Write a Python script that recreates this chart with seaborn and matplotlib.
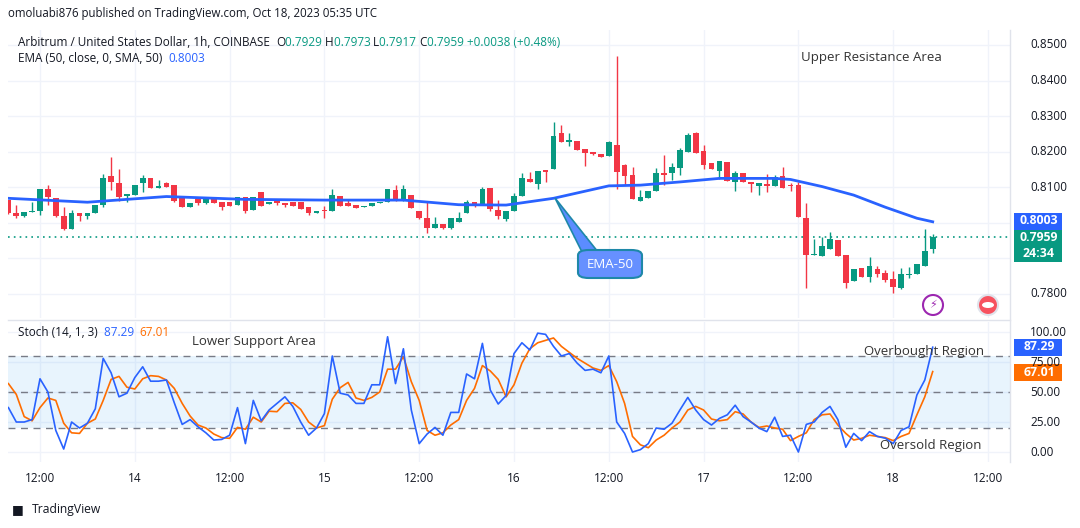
import matplotlib
matplotlib.use("Agg")
import matplotlib.pyplot as plt
import seaborn as sns
import pandas as pd
import numpy as np
from matplotlib.patches import Polygon, FancyBboxPatch, Ellipse

FONT = "Open Sans"
plt.rcParams["font.family"] = FONT

opens = [0.8064,0.8028,0.8020,0.8030,0.8032,0.8095,0.8071,0.8019,0.7983,0.8029,
         0.8018,0.8029,0.8050,0.8132,0.8113,0.8075,0.8078,0.8112,0.8126,0.8099,
         0.8112,0.8106,0.8072,0.8045,0.8067,0.8057,0.8069,0.8059,0.8059,0.8050,
         0.8072,0.8036,0.8087,0.8052,0.8062,0.8057,0.8060,0.8060,0.8045,0.8029,
         0.8036,0.8034,0.8075,0.8057,0.8050,0.8044,0.8048,0.8055,0.8060,0.8092,
         0.8061,0.8078,0.8034,0.8015,0.7986,0.7997,0.7986,0.8003,0.8029,0.8058,
         0.8050,0.8098,0.8036,0.8010,0.8034,0.8075,0.8123,0.8108,0.8149,0.8151,
         0.8252,0.8226,0.8230,0.8208,0.8198,0.8194,0.8188,0.8219,0.8163,0.8135,
         0.8062,0.8071,0.8090,0.8141,0.8139,0.8153,0.8200,0.8252,0.8202,0.8167,
         0.8147,0.8172,0.8116,0.8139,0.8116,0.8105,0.8109,0.8104,0.8132,0.8107,
         0.8107,0.8015,0.7910,0.7907,0.7926,0.7952,0.7910,0.7837,0.7872,0.7847,
         0.7869,0.7858,0.7841,0.7818,0.7854,0.7856,0.7880,0.7926]
closes = [0.8029,0.8020,0.8030,0.8032,0.8095,0.8072,0.8020,0.7983,0.8029,0.8018,
          0.8029,0.8050,0.8126,0.8115,0.8072,0.8080,0.8106,0.8126,0.8099,0.8104,
          0.8102,0.8062,0.8045,0.8057,0.8057,0.8069,0.8057,0.8045,0.8048,0.8072,
          0.8033,0.8072,0.8048,0.8060,0.8057,0.8050,0.8048,0.8038,0.8029,0.8033,
          0.8032,0.8078,0.8047,0.8047,0.8043,0.8046,0.8057,0.8060,0.8095,0.8061,
          0.8095,0.8043,0.8015,0.7986,0.7997,0.7986,0.8015,0.8015,0.8058,0.8050,
          0.8095,0.8039,0.8020,0.8034,0.8075,0.8125,0.8116,0.8147,0.8144,0.8244,
          0.8226,0.8233,0.8205,0.8196,0.8194,0.8186,0.8226,0.8144,0.8133,0.8067,
          0.8072,0.8090,0.8139,0.8134,0.8158,0.8205,0.8247,0.8197,0.8164,0.8150,
          0.8174,0.8118,0.8139,0.8116,0.8108,0.8113,0.8104,0.8128,0.8099,0.8105,
          0.8017,0.7910,0.7912,0.7935,0.7956,0.7908,0.7832,0.7870,0.7849,0.7879,
          0.7856,0.7839,0.7820,0.7856,0.7857,0.7884,0.7921,0.7959]
wick_high = {1:0.8050,3:0.8058,5:0.8106,7:0.8044,8:0.8036,12:0.8137,13:0.8186,14:0.8151,
             17:0.8135,19:0.8120,20:0.8115,25:0.8074,40:0.8047,41:0.8095,43:0.8065,49:0.8106,
             50:0.8106,53:0.8060,54:0.8016,57:0.8031,58:0.8063,60:0.8100,62:0.8064,64:0.8083,
             65:0.8141,66:0.8144,69:0.8283,70:0.8275,71:0.8254,76:0.8230,77:0.8470,78:0.8166,
             79:0.8156,80:0.8092,82:0.8153,83:0.8190,84:0.8169,85:0.8210,86:0.8254,87:0.8255,
             88:0.8219,92:0.8145,96:0.8138,97:0.8135,98:0.8156,99:0.8113,100:0.8115,101:0.8055,
             102:0.7956,103:0.7961,104:0.7975,109:0.7905,110:0.7879,111:0.7867,112:0.7865,
             113:0.7874,114:0.7877,116:0.7983,117:0.7970}
wick_low = {0:0.8025,1:0.8015,2:0.8016,4:0.8022,5:0.8050,6:0.8016,7:0.7980,9:0.8005,10:0.8010,
            12:0.8045,13:0.8091,14:0.8062,15:0.8060,17:0.8088,21:0.8058,23:0.8045,24:0.8050,
            25:0.8052,27:0.8035,30:0.8028,34:0.8050,35:0.8045,38:0.8022,40:0.8013,52:0.8012,
            53:0.7971,55:0.7983,56:0.7983,59:0.8045,61:0.8032,62:0.8010,63:0.8005,67:0.8095,
            68:0.8115,71:0.8217,73:0.8161,74:0.8190,77:0.8095,78:0.8106,81:0.8079,83:0.8106,
            84:0.8120,85:0.8134,88:0.8150,90:0.8122,92:0.8090,94:0.8088,95:0.8078,96:0.8088,
            99:0.8090,101:0.7816,106:0.7816,109:0.7835,110:0.7849,111:0.7834,112:0.7802,
            113:0.7815,114:0.7845,116:0.7878,117:0.7916}

ema_idx = [0,10,20,30,40,50,57,63,69,76,80,85,90,97,99,103,107,111,115,117]
ema_val = [0.8069,0.8058,0.8074,0.8066,0.8064,0.8064,0.8051,0.8050,0.8069,0.8104,0.8106,
           0.8115,0.8125,0.8125,0.8122,0.8102,0.8078,0.8044,0.8013,0.8003]

stoch_k = [37,25,25,27,61,50,18,2.5,25,20,24,36,78,66,46,49,62,71,59,59,
           60,41,23,27,21,16,10,10.5,14,37,7,43,26,35,40.5,46,38,25,14,20,
           32,80,49,47.5,40.5,40.5,56,56,96,57,86,35,7,15,20.5,14,33,33,65,61,
           90.5,51.6,40,47,82,91,85,99,
           98,88,80,82,74,68,69,66,80,25,15.5,0,2,7,20,19,24,35,45.5,35,
           27,22.5,28,31,39,29.5,25,20,17,29,13,14,0,23,25,33,38,27,4,15.5,
           9.5,17,13,11.5,7,18,21,47.5,60,87.29]
stoch_d = [57,48,29.5,26,37,45,43,24,16,15.5,24,27.5,43,60.5,63,54,52.5,61,63.6,63,
           60,53,40.5,30,22.5,20,15,12,11.4,20.5,19,29,25,34,33.6,40.5,41,35.5,25,20,
           22,44,53.6,58,45,43,45.5,50,69,69,79.4,58.6,43,18,14,16,22.5,27,43,53,
           72,67.5,60.5,46,56,74,86,91,
           93,95,88,83,78,74,70,68,72,58.6,40.5,13,6,3.6,10,14,20,25,35,38,
           35,27.5,26,27,33.6,31.7,25,20.5,21.7,20,19,9.5,13,16,27,31,31.7,22.5,15.5,10,
           11.4,14,13,12,9.5,13,15.5,31,46,67.01]

tick_pos = [4,16,28,40,52,64,76,88,100,112,124]
tick_lab = ["12:00","14","12:00","15","12:00","16","12:00","17","12:00","18","12:00"]
price_ticks = [0.78,0.79,0.80,0.81,0.82,0.83,0.84,0.85]
price_tick_labels_shown = [0.78,0.81,0.82,0.83,0.84,0.85]
stoch_ticks = [0,25,50,75,100]

W, H = 1080, 528
fig = plt.figure(figsize=(W/100, H/100), dpi=100)
def px(x0, y0, x1, y1):
    return [x0/W, 1-y1/H, (x1-x0)/W, (y1-y0)/H]
ax = fig.add_axes(px(8, 30, 1010, 318))
ax2 = fig.add_axes(px(8, 322, 1010, 462))

UP, DN = "#089981", "#f23645"
n = len(opens)
idx = np.arange(n)
XL = (4 + (8-40)/7.9, 4 + (1010-40)/7.9)
for i in range(n):
    o, c = opens[i], closes[i]
    col = UP if c >= o else DN
    hi = max(o, c, wick_high.get(i, 0))
    lo = min(o, c, wick_low.get(i, 1))
    ax.vlines(i, lo, hi, color=col, lw=1, zorder=3)
    ax.bar(i, max(abs(c-o), 0.00008), bottom=min(o, c), width=0.72, color=col, zorder=4, linewidth=0)

sns.lineplot(x=ema_idx, y=ema_val, ax=ax, color="#2962ff", lw=2, zorder=5)
ax.axhline(closes[-1], color=UP, ls=(0, (1, 2.5)), lw=1.2, zorder=2)
ax.set_xlim(*XL)
ax.set_ylim(0.85 - 273/3557, 0.85 + 15/3557)

df = pd.DataFrame({"i": idx, "K": stoch_k, "D": stoch_d})
ax2.axhspan(20, 80, color="#2196f3", alpha=0.1, lw=0)
for lv in (80, 50, 20):
    ax2.axhline(lv, color="#787b86", ls=(0, (5, 4)), lw=1)
sns.lineplot(data=df, x="i", y="D", ax=ax2, color="#ff6d00", lw=1.2)
sns.lineplot(data=df, x="i", y="K", ax=ax2, color="#2962ff", lw=1.2)
ax2.set_xlim(*XL)
ax2.set_ylim(-8.3, 108.3)

for a, yt in ((ax, price_ticks), (ax2, stoch_ticks)):
    a.set_xticks(tick_pos)
    a.set_yticks(yt)
    a.grid(True, color="#f0f3fa", lw=1)
    a.set_axisbelow(True)
    a.tick_params(length=0, labelleft=False, labelbottom=False, labelright=False)
    a.set_xlabel(""); a.set_ylabel("")
    for s in a.spines.values():
        s.set_visible(False)

def ftext(x, y, s, **kw):
    kw.setdefault("fontsize", 8.5)
    kw.setdefault("color", "#131722")
    kw.setdefault("va", "center")
    return fig.text(x/W, 1-y/H, s, **kw)

for p in price_tick_labels_shown:
    y = 45 + (0.85-p)*3557
    ftext(1030, y, f"{p:.4f}")
for v in stoch_ticks:
    y = 452 - v*1.2
    ftext(1030, y, f"{v:.2f}")
for t, l in zip(tick_pos, tick_lab):
    x = 40 + 7.9*(t-4)
    ftext(x, 478, l, ha="center")

def vbox(y0, y1, col, lines):
    fig.patches.append(FancyBboxPatch((1014/W, 1-y1/H), 48/W, (y1-y0)/H,
                       boxstyle="square,pad=0", fc=col, ec="none", transform=fig.transFigure))
    for yy, s in lines:
        ftext(1039, yy, s, color="white", ha="center", fontsize=8.8, fontweight="bold")
vbox(213, 230, "#2962ff", [(221, "0.8003")])
vbox(230, 262, UP, [(238, "0.7959"), (253, "24:34")])
vbox(339, 356, "#2962ff", [(347, "87.29")])
vbox(364, 381, "#ff6d00", [(372, "67.01")])

fig.add_artist(plt.Line2D([8/W, 1010/W], [1-320/H]*2, color="#e0e3eb", lw=1))
fig.add_artist(plt.Line2D([1010/W]*2, [1-30/H, 1-462/H], color="#e0e3eb", lw=1))

ftext(8, 14, "omoluabi876 published on TradingView.com, Oct 18, 2023 05:35 UTC", fontsize=8.3)
renderer = fig.canvas.get_renderer()
parts = [("Arbitrum / United States Dollar, 1h, COINBASE  ", "#131722"), ("O", "#131722"), ("0.7929 ", UP),
         ("H", "#131722"), ("0.7973 ", UP), ("L", "#131722"), ("0.7917 ", UP), ("C", "#131722"),
         ("0.7959 +0.0038 (+0.48%)", UP)]
cx = 18
for s, col in parts:
    tt = ftext(cx, 42, s, color=col)
    cx += tt.get_window_extent(renderer).width
tt = ftext(18, 58, "EMA (50, close, 0, SMA, 50)  ")
ftext(18 + tt.get_window_extent(renderer).width, 58, "0.8003", color="#2962ff")
tt = ftext(18, 333, "Stoch (14, 1, 3)  ")
w = tt.get_window_extent(renderer).width
tt2 = ftext(18 + w, 333, "87.29  ", color="#2962ff")
ftext(18 + w + tt2.get_window_extent(renderer).width, 333, "67.01", color="#ff6d00")

ftext(801, 58, "Upper Resistance Area", fontsize=9.5, color="#333")
ftext(192, 341, "Lower Support Area", fontsize=9.5, color="#333")
ftext(864, 351, "Overbought Region", fontsize=9.5, color="#333")
ftext(880, 445, "Oversold Region", fontsize=9.5, color="#333")

def P(x, y): return (x/W, 1-y/H)
fig.patches.append(Polygon([P(555, 198), P(582, 252), P(598, 252)], closed=True,
                   fc="#5b8cff", ec="#1e88a8", lw=1.2, transform=fig.transFigure))
fig.patches.append(FancyBboxPatch(P(578, 278), 64/W, 28/H, boxstyle="round,pad=0,rounding_size=0.01",
                   fc="#6690ff", ec="#1e88a8", lw=1.5, transform=fig.transFigure))
ftext(610, 264, "EMA-50", color="white", ha="center", fontsize=9.5)

fig.patches.append(Ellipse(P(933, 305), 20/W, 20/H, fc="white", ec="#9c27b0", lw=1.5, transform=fig.transFigure))
ftext(933, 305, "⚡", ha="center", color="#9c27b0", fontsize=8, family="DejaVu Sans")
fig.patches.append(Ellipse(P(988, 305), 20/W, 20/H, fc="#f7525f", ec="#e0e3eb", lw=1.5, transform=fig.transFigure))
fig.patches.append(Ellipse(P(988, 305), 12/W, 6/H, fc="white", ec="none", transform=fig.transFigure))

ftext(12, 510, "\u25a0", fontsize=9, family="DejaVu Sans")
ftext(32, 510, "TradingView", fontsize=8.7)

fig.savefig("out.png", dpi=100, facecolor="white")
